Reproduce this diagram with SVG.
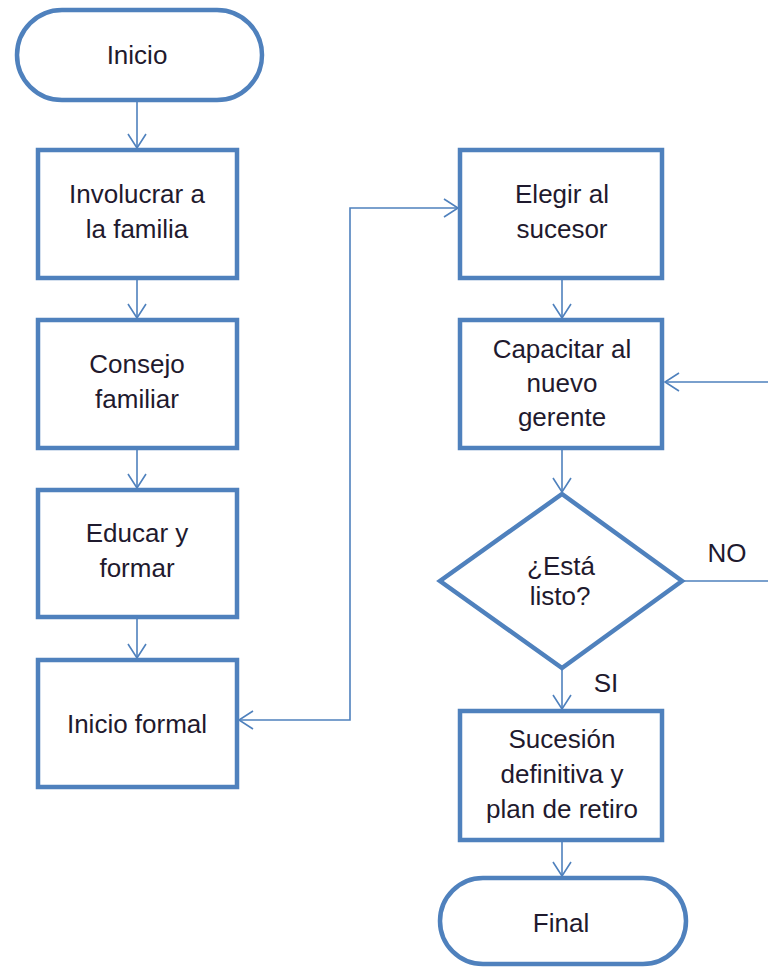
<svg xmlns="http://www.w3.org/2000/svg" width="768" height="971" viewBox="0 0 768 971">
<defs>
<marker id="arr" markerUnits="userSpaceOnUse" markerWidth="20" markerHeight="22" refX="0" refY="0" viewBox="-16 -11 18 22" orient="auto-start-reverse" overflow="visible">
<path d="M-14,-9 L0,0 L-14,9" fill="none" stroke="#4f81bd" stroke-width="1.6"/>
</marker>
<style>
.shape{fill:#fff;stroke:#4f81bd;stroke-width:4.5}
.lbl{font-family:"Liberation Sans",Arial,sans-serif;font-size:26px;fill:#1f1a2e;text-anchor:middle}
.conn{fill:none;stroke:#4f81bd;stroke-width:1.6}
</style>
</defs>
<rect width="768" height="971" fill="#fff"/>
<g id="connectors">
<path class="conn" d="M137,100 L137,148" marker-end="url(#arr)"/>
<path class="conn" d="M137,278 L137,318" marker-end="url(#arr)"/>
<path class="conn" d="M137,448 L137,488" marker-end="url(#arr)"/>
<path class="conn" d="M137,617 L137,658" marker-end="url(#arr)"/>
<path class="conn" d="M239,720 L350,720 L350,208 L458,208" marker-start="url(#arr)" marker-end="url(#arr)"/>
<path class="conn" d="M562,278 L562,318" marker-end="url(#arr)"/>
<path class="conn" d="M562,448 L562,492" marker-end="url(#arr)"/>
<path class="conn" d="M682,581 L772,581 L772,382 L665,382" marker-end="url(#arr)"/>
<path class="conn" d="M562,668 L562,709" marker-end="url(#arr)"/>
<path class="conn" d="M562,840 L562,876" marker-end="url(#arr)"/>
<text class="lbl" x="727" y="562">NO</text>
<text class="lbl" x="606" y="692">SI</text>
</g>
<g id="inicio">
<rect class="shape" x="17" y="10" width="245" height="90" rx="45"/>
<text class="lbl" x="137" y="64">Inicio</text>
</g>
<g id="involucrar">
<rect class="shape" x="38" y="150" width="199" height="128"/>
<text class="lbl" x="137" y="203">Involucrar a</text>
<text class="lbl" x="137" y="238">la familia</text>
</g>
<g id="consejo">
<rect class="shape" x="38" y="320" width="199" height="128"/>
<text class="lbl" x="137" y="373">Consejo</text>
<text class="lbl" x="137" y="408">familiar</text>
</g>
<g id="educar">
<rect class="shape" x="38" y="490" width="199" height="127"/>
<text class="lbl" x="137" y="542">Educar y</text>
<text class="lbl" x="137" y="577">formar</text>
</g>
<g id="inicio-formal">
<rect class="shape" x="38" y="660" width="199" height="127"/>
<text class="lbl" x="137" y="733">Inicio formal</text>
</g>
<g id="elegir">
<rect class="shape" x="460" y="150" width="202" height="128"/>
<text class="lbl" x="562" y="203">Elegir al</text>
<text class="lbl" x="562" y="238">sucesor</text>
</g>
<g id="capacitar">
<rect class="shape" x="460" y="320" width="202" height="128"/>
<text class="lbl" x="562" y="358">Capacitar al</text>
<text class="lbl" x="562" y="392">nuevo</text>
<text class="lbl" x="562" y="426">gerente</text>
</g>
<g id="decision">
<polygon class="shape" points="562,494 682,581 562,668 440,581"/>
<text class="lbl" x="561" y="575">¿Está</text>
<text class="lbl" x="560" y="605">listo?</text>
</g>
<g id="sucesion">
<rect class="shape" x="460" y="711" width="202" height="129"/>
<text class="lbl" x="562" y="748">Sucesión</text>
<text class="lbl" x="562" y="783">definitiva y</text>
<text class="lbl" x="562" y="818">plan de retiro</text>
</g>
<g id="final">
<rect class="shape" x="440" y="878" width="246" height="86" rx="43"/>
<text class="lbl" x="561" y="932">Final</text>
</g>
</svg>
